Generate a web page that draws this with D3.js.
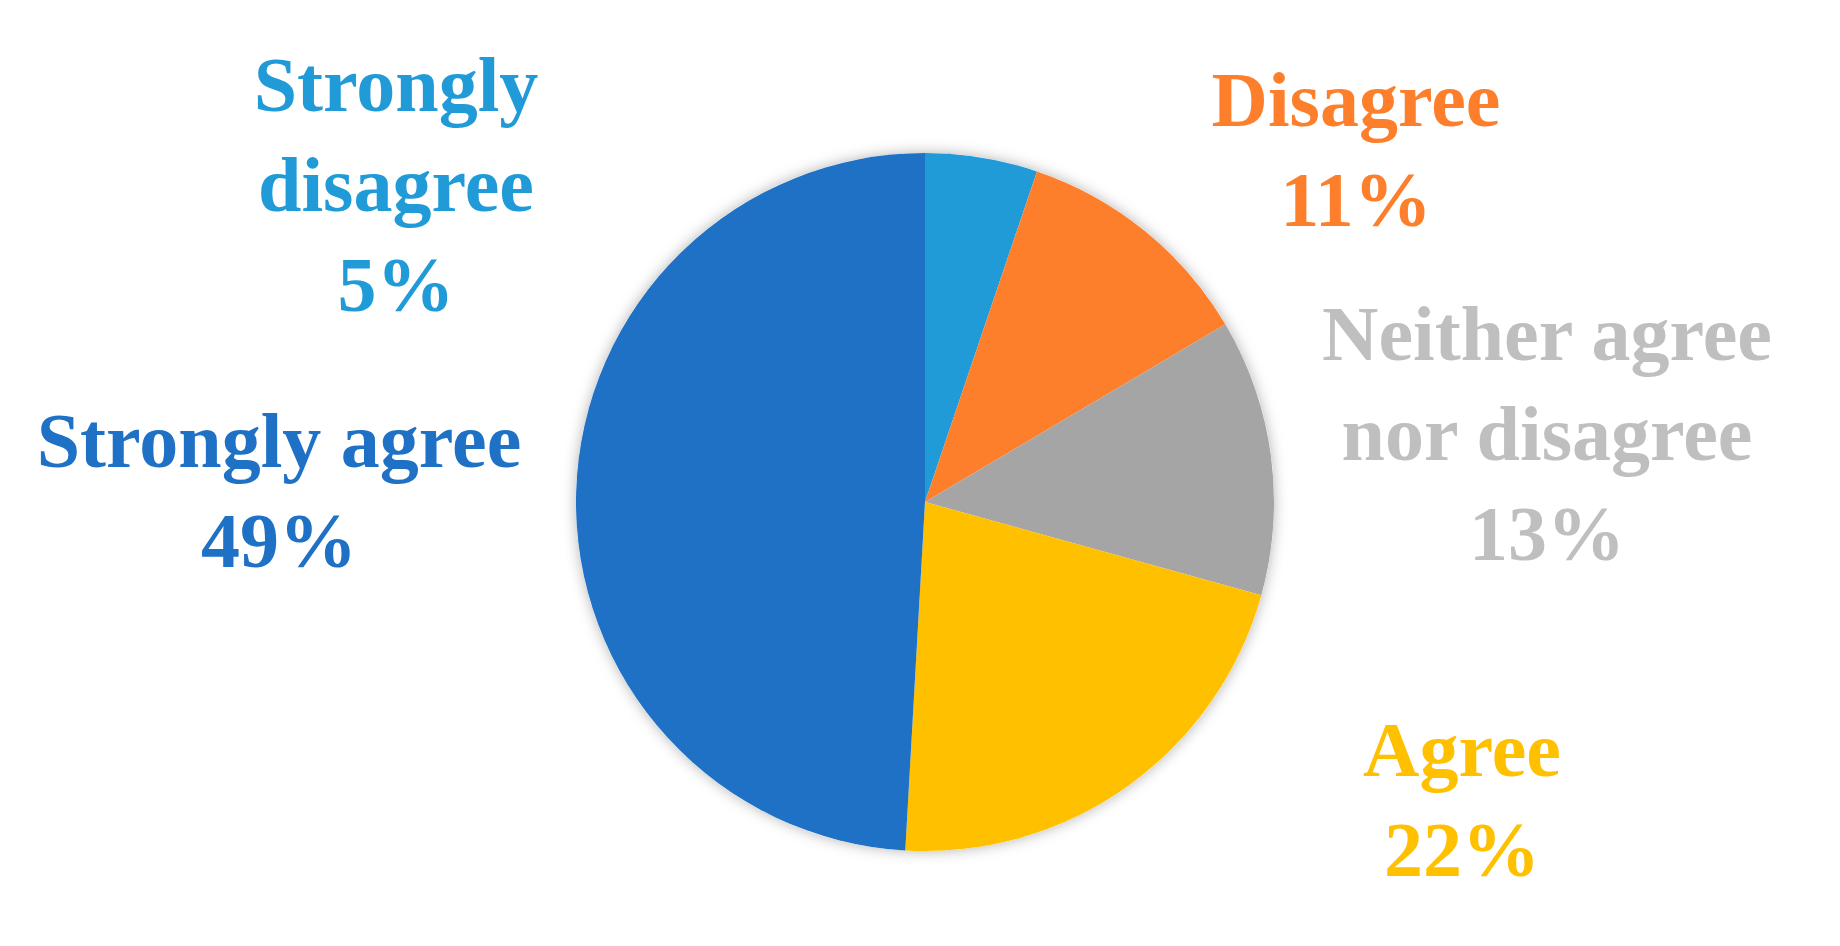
<!DOCTYPE html>
<html>
<head>
<meta charset="utf-8">
<script src="https://cdn.jsdelivr.net/npm/d3@7"></script>
<style>
  html, body { margin: 0; padding: 0; background: #fff; }
  svg { display: block; }
  .lbl { font-family: "Liberation Serif", "Times New Roman", serif; font-weight: bold; font-size: 78px; }
</style>
</head>
<body>
<svg id="chart"></svg>
<script>
const categories = ['Strongly disagree', 'Disagree', 'Neither agree nor disagree', 'Agree', 'Strongly agree'];
// shares; the printed labels are rounded
const values = [5.2, 11.3, 12.8, 21.6, 49.1];
const labelLines = [
  ['Strongly', 'disagree', '5%'],
  ['Disagree', '11%'],
  ['Neither agree', 'nor disagree', '13%'],
  ['Agree', '22%'],
  ['Strongly agree', '49%']
];

const sliceColors = ['#219bd7', '#fe7f2b', '#a5a5a5', '#ffc000', '#1e71c5'];
const textColors = ['#219bd7', '#fe7f2b', '#bfbfbf', '#ffc000', '#1e71c5'];
// label anchor (centre x, first baseline y) in page pixels
const labelAnchor = [[396, 111], [1356, 126], [1547, 360], [1462, 776], [279, 467]];
const lineGap = 100;

const w = 1840;
const h = 946;
const cx = 925;
const cy = 502;
const radius = 349;

const svg = d3.select('#chart').attr('width', w).attr('height', h);

const defs = svg.append('defs');
const shadow = defs.append('filter').attr('id', 'glow')
  .attr('x', '-10%').attr('y', '-10%').attr('width', '120%').attr('height', '120%');
shadow.append('feDropShadow')
  .attr('dx', 0).attr('dy', 0)
  .attr('stdDeviation', 7)
  .attr('flood-color', '#000')
  .attr('flood-opacity', 0.3);

const data = categories.map((c, i) => ({ name: c, value: values[i], idx: i }));

const pie = d3.pie().value(d => d.value).sort(null);
const arc = d3.arc().innerRadius(0).outerRadius(radius);

const g = svg.append('g').attr('transform', `translate(${cx},${cy})`);

g.append('circle').attr('r', radius).attr('fill', '#fff').attr('filter', 'url(#glow)');

g.selectAll('.slice')
  .data(pie(data))
  .enter()
  .append('path')
  .attr('class', 'slice')
  .attr('d', arc)
  .attr('fill', d => sliceColors[d.data.idx]);

const labels = svg.selectAll('.lbl')
  .data(data)
  .enter()
  .append('text')
  .attr('class', 'lbl')
  .attr('text-anchor', 'middle')
  .attr('fill', d => textColors[d.idx]);

labels.each(function(d) {
  const [x, y] = labelAnchor[d.idx];
  d3.select(this).selectAll('tspan')
    .data(labelLines[d.idx])
    .enter()
    .append('tspan')
    .attr('x', x)
    .attr('y', (t, j) => y + j * lineGap)
    .text(t => t);
});
</script>
</body>
</html>
